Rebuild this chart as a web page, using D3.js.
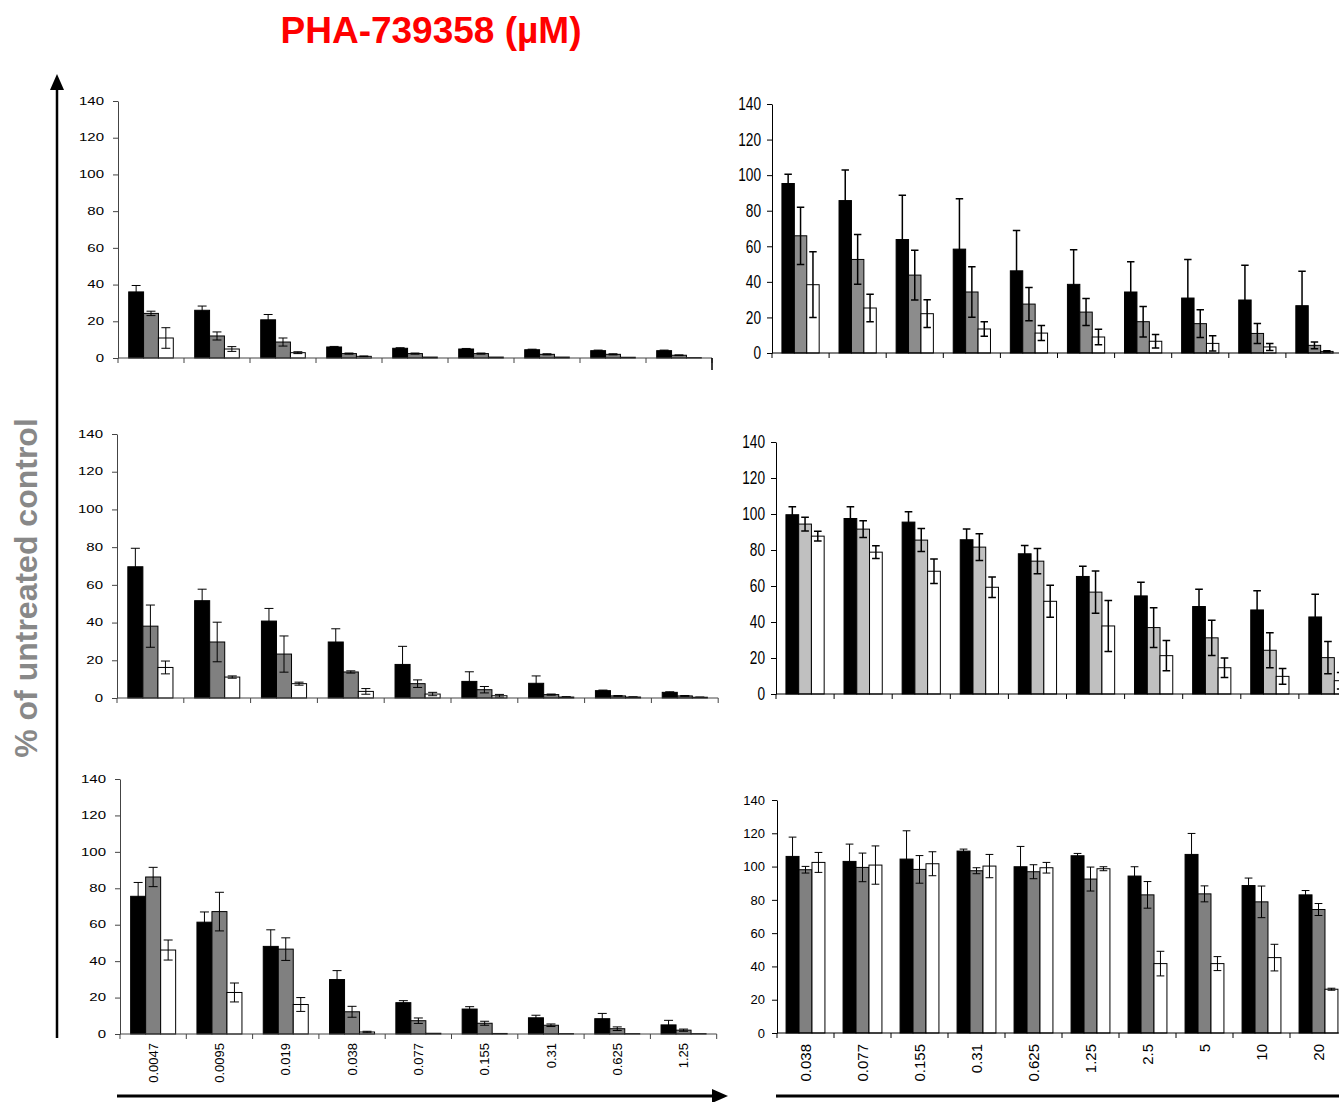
<!DOCTYPE html>
<html>
<head>
<meta charset="utf-8">
<script src="https://cdn.jsdelivr.net/npm/d3@7"></script>
<style>
  body { margin: 0; background: #fff; }
  svg { display: block; }
</style>
</head>
<body>
<div id="chart"></div>
<script>
// concentrations (µM)
const leftConc = ["0.0047", "0.0095", "0.019", "0.038", "0.077", "0.155", "0.31", "0.625", "1.25"];
const rightConc = ["0.038", "0.077", "0.155", "0.31", "0.625", "1.25", "2.5", "5", "10", "20"];
const yTicks = [0, 20, 40, 60, 80, 100, 120, 140];

// each panel: [black, gray, white] means and errors
const tlMeans = [
    [36, 26, 20.8, 6, 5.3, 4.9, 4.5, 4, 4],
    [24.3, 12, 8.7, 2.4, 2.4, 2.4, 2, 2, 1.5],
    [10.9, 4.9, 2.9, 0.9, 0.5, 0.5, 0.5, 0.4, 0.2]
];
const tlErrs = [
    [3.5, 2.3, 2.9, 0.3, 0.3, 0.3, 0.3, 0.3, 0.3],
    [1.2, 2.2, 2.2, 0.3, 0.3, 0.3, 0.3, 0.3, 0.2],
    [5.6, 1.3, 0.5, 0.2, 0, 0, 0, 0, 0]
];
const trMeans = [
    [95.3, 85.7, 63.8, 58.4, 46.2, 38.6, 34.3, 30.9, 29.8, 26.6],
    [65.9, 52.6, 43.8, 34.3, 27.5, 23, 17.6, 16.5, 11, 4.3],
    [38.4, 25.3, 22.1, 13.5, 11.2, 9, 6.6, 5.4, 3.4, 0.9]
];
const trErrs = [
    [5.2, 17.2, 24.9, 28.3, 22.7, 19.4, 17, 21.7, 19.6, 19.4],
    [16.1, 14, 14, 14.2, 9.3, 7.6, 8.6, 7.8, 5.6, 1.9],
    [18.5, 7.7, 7.8, 4.1, 4.2, 4.4, 3.8, 4.3, 2, 0.4]
];
const mlMeans = [
    [69.6, 51.6, 40.8, 29.7, 17.8, 8.8, 7.8, 3.9, 3],
    [38.1, 29.7, 23.3, 13.8, 7.6, 4.4, 1.8, 1.1, 1.1],
    [16.2, 11.1, 7.6, 3.5, 2.1, 1.2, 0.5, 0.5, 0.4]
];
const mlErrs = [
    [9.8, 6.1, 6.7, 7, 9.6, 5.1, 3.9, 0.3, 0.3],
    [11.2, 10.5, 9.6, 0.6, 2, 1.7, 0.3, 0.2, 0.2],
    [3.4, 0.6, 0.8, 1.5, 0.9, 0.7, 0.2, 0.1, 0.1]
];
const mrMeans = [
    [99.6, 97.5, 95.5, 85.7, 77.9, 65.3, 54.5, 48.6, 46.7, 42.8],
    [94.4, 91.6, 85.5, 81.6, 73.8, 56.6, 36.9, 31.2, 24.3, 20.2],
    [87.7, 78.8, 68.2, 59.3, 51.5, 37.8, 21.3, 14.6, 9.8, 7.4]
];
const mrErrs = [
    [4.4, 6.5, 5.7, 5.9, 4.6, 5.7, 7.6, 9.6, 10.6, 12.6],
    [3.8, 4.6, 6.4, 7.4, 7, 11.7, 11, 9.8, 9.7, 8.9],
    [2.7, 3.5, 6.8, 5.7, 8.9, 14.2, 8.4, 5.4, 4.4, 4.6]
];
const blMeans = [
    [75.6, 61.4, 48.1, 29.9, 17.2, 13.7, 8.9, 8.4, 5],
    [86.2, 67.2, 46.6, 12.2, 7.3, 5.9, 4.8, 2.9, 2.1],
    [46.1, 22.8, 16.2, 1.1, 0.4, 0.3, 0.2, 0.2, 0.2]
];
const blErrs = [
    [7.6, 5.6, 9.1, 4.9, 1.1, 1.3, 1.4, 2.9, 2.5],
    [5.3, 10.6, 6.2, 3, 1.5, 1.1, 0.7, 1, 0.6],
    [5.5, 5.2, 3.8, 0.4, 0, 0, 0, 0, 0]
];
const brMeans = [
    [106.1, 103.1, 104.5, 109.3, 99.9, 106.5, 94.3, 107.3, 88.6, 83],
    [98.1, 99.5, 98.3, 97.5, 96.9, 92.5, 83, 83.6, 78.8, 74.2],
    [102.5, 100.9, 101.7, 100.3, 99.3, 98.7, 41.7, 41.7, 45.3, 26.3]
];
const brErrs = [
    [11.6, 10.4, 17, 1.2, 12.2, 1.4, 5.6, 12.6, 4.5, 2.6],
    [2, 8.6, 8.3, 1.8, 4.2, 7.2, 8, 4.8, 9.5, 3.6],
    [6, 11.5, 7.2, 7, 3.2, 1.2, 7.4, 4.2, 8, 0.6]
];

const width = 1339;
const height = 1102;

const svg = d3.select("#chart")
    .append("svg")
    .attr("width", width)
    .attr("height", height);

const font = "'Liberation Sans', Arial, sans-serif";

function drawPanel(p) {
    const g = svg.append("g");
    const x = d3.scaleBand()
        .domain(p.cats)
        .range([p.x0, p.x0 + p.cats.length * p.step])
        .padding(0);
    const xs = d3.scaleBand()
        .domain([0, 1, 2])
        .range([0, x.bandwidth()])
        .paddingInner(0)
        .paddingOuter(p.pad);
    const y = d3.scaleLinear().domain([0, 140]).range([p.y0, p.y1]);

    // y axis
    const ya = g.append("g")
        .attr("transform", `translate(${p.x0},0)`)
        .call(d3.axisLeft(y).tickValues(yTicks).tickSize(5).tickSizeOuter(0).tickPadding(p.tickPad));
    ya.select(".domain").attr("stroke", p.axisColor);
    ya.selectAll(".tick line").attr("stroke", p.axisColor);
    ya.selectAll(".tick text")
        .attr("x", 0)
        .attr("transform", `translate(${-(5 + p.tickPad)},0) scale(${p.tickScale},1)`)
        .attr("font-family", font)
        .attr("font-size", p.tickSize + "px")
        .attr("fill", "#000");

    // bars
    const rows = [];
    p.means.forEach((arr, s) => arr.forEach((v, i) => {
        rows.push({ cat: p.cats[i], s: s, v: v, e: p.errs[s][i] });
    }));

    g.selectAll(".bar")
        .data(rows)
        .enter()
        .append("rect")
        .attr("x", d => x(d.cat) + xs(d.s))
        .attr("y", d => y(d.v))
        .attr("width", xs.bandwidth())
        .attr("height", d => y(0) - y(d.v))
        .attr("fill", d => p.colors[d.s])
        .attr("stroke", "#000")
        .attr("stroke-width", 1);

    // error bars
    const eb = rows.filter(d => d.e > 0);
    const cx = d => x(d.cat) + xs(d.s) + xs.bandwidth() / 2;
    const cap = xs.bandwidth() * 0.3;
    g.selectAll(".err")
        .data(eb)
        .enter()
        .append("path")
        .attr("d", d => {
            const hi = y(d.v + d.e), lo = y(Math.max(0, d.v - d.e)), c = cx(d);
            return `M${c},${hi}V${lo}M${c - cap},${hi}H${c + cap}M${c - cap},${lo}H${c + cap}`;
        })
        .attr("fill", "none")
        .attr("stroke", "#000")
        .attr("stroke-width", p.errWidth);

    // x axis with ticks at category boundaries
    const xEnd = x.range()[1];
    g.append("line")
        .attr("x1", p.x0).attr("x2", xEnd)
        .attr("y1", y(0)).attr("y2", y(0))
        .attr("stroke", p.axisColor);
    const bounds = p.cats.map(c => x(c)).concat([xEnd]);
    g.selectAll(".xt")
        .data(bounds)
        .enter()
        .append("line")
        .attr("x1", d => d).attr("x2", d => d)
        .attr("y1", y(0)).attr("y2", y(0) + 5)
        .attr("stroke", p.axisColor);

    if (p.labels) {
        g.selectAll(".xl")
            .data(p.cats)
            .enter()
            .append("text")
            .attr("transform", d => `translate(${x(d) + x.bandwidth() / 2 + p.labelSize * 0.35},${y(0) + p.labelGap}) rotate(-90)`)
            .attr("text-anchor", "end")
            .attr("font-family", font)
            .attr("font-size", p.labelSize + "px")
            .attr("fill", "#000")
            .text(d => d);
    }
    return { x, y };
}

const darkGray = "#808080";

const tl = drawPanel({ cats: leftConc, x0: 118, step: 66, y0: 358, y1: 101, pad: 0.72,
    means: tlMeans, errs: tlErrs, colors: ["#000", darkGray, "#fff"],
    tickSize: 10, tickScale: 1.5, tickPad: 9, axisColor: "#444", errWidth: 1 });
// odd longer end tick on the first panel
svg.append("line")
    .attr("x1", tl.x.range()[1]).attr("x2", tl.x.range()[1])
    .attr("y1", tl.y(0)).attr("y2", tl.y(0) + 12)
    .attr("stroke", "#000").attr("stroke-width", 1.5);

drawPanel({ cats: rightConc, x0: 772, step: 57.1, y0: 353, y1: 104, pad: 0.8,
    means: trMeans, errs: trErrs, colors: ["#000", "#8c8c8c", "#fff"],
    tickSize: 18, tickScale: 0.76, tickPad: 6, axisColor: "#000", errWidth: 1.5 });

drawPanel({ cats: leftConc, x0: 117, step: 66.8, y0: 698, y1: 434, pad: 0.72,
    means: mlMeans, errs: mlErrs, colors: ["#000", darkGray, "#fff"],
    tickSize: 10, tickScale: 1.5, tickPad: 9, axisColor: "#444", errWidth: 1 });

drawPanel({ cats: rightConc, x0: 776, step: 58.1, y0: 694, y1: 442, pad: 0.78,
    means: mrMeans, errs: mrErrs, colors: ["#000", "#c0c0c0", "#fff"],
    tickSize: 18, tickScale: 0.76, tickPad: 6, axisColor: "#000", errWidth: 1.5 });

drawPanel({ cats: leftConc, x0: 120, step: 66.3, y0: 1034, y1: 779, pad: 0.71,
    means: blMeans, errs: blErrs, colors: ["#000", darkGray, "#fff"],
    tickSize: 10, tickScale: 1.5, tickPad: 9, axisColor: "#444", errWidth: 1,
    labels: true, labelSize: 13, labelGap: 9 });

drawPanel({ cats: rightConc, x0: 777, step: 57, y0: 1033, y1: 800, pad: 0.7,
    means: brMeans, errs: brErrs, colors: ["#000", darkGray, "#fff"],
    tickSize: 13, tickScale: 1, tickPad: 7, axisColor: "#000", errWidth: 1,
    labels: true, labelSize: 15, labelGap: 11 });

// title
svg.append("text")
    .attr("x", 431)
    .attr("y", 43)
    .attr("text-anchor", "middle")
    .attr("font-family", font)
    .attr("font-weight", "bold")
    .attr("font-size", "37px")
    .attr("fill", "#ff0000")
    .text("PHA-739358 (µM)");

// y label
svg.append("text")
    .attr("transform", "translate(37,588) rotate(-90)")
    .attr("text-anchor", "middle")
    .attr("font-family", font)
    .attr("font-weight", "bold")
    .attr("font-size", "32px")
    .attr("fill", "#888")
    .text("% of untreated control");

// vertical arrow
svg.append("line")
    .attr("x1", 57).attr("x2", 57)
    .attr("y1", 1038).attr("y2", 88)
    .attr("stroke", "#000").attr("stroke-width", 2.5);
svg.append("path")
    .attr("d", "M57,74L50,90L64,90Z")
    .attr("fill", "#000");

// horizontal arrows
svg.append("line")
    .attr("x1", 117).attr("x2", 714)
    .attr("y1", 1096).attr("y2", 1096)
    .attr("stroke", "#000").attr("stroke-width", 3);
svg.append("path")
    .attr("d", "M728,1096L712,1089L712,1103Z")
    .attr("fill", "#000");
svg.append("line")
    .attr("x1", 776).attr("x2", 1339)
    .attr("y1", 1096).attr("y2", 1096)
    .attr("stroke", "#000").attr("stroke-width", 3);
</script>
</body>
</html>
